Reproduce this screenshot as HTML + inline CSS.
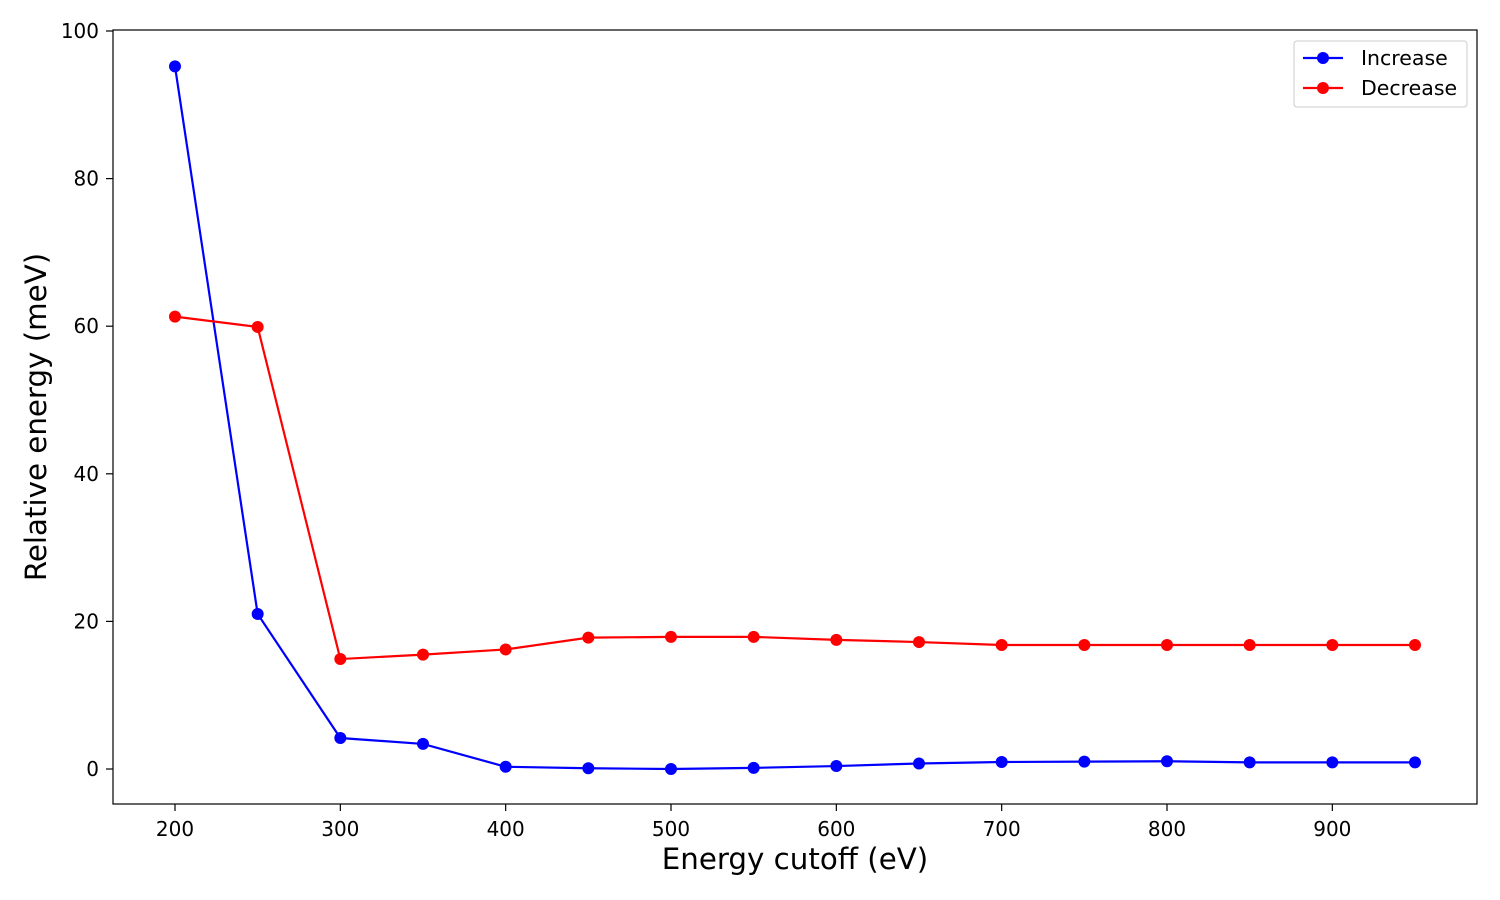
<!DOCTYPE html>
<html><head><meta charset="utf-8"><style>body{margin:0;background:#fff}svg{display:block;font-family:"DejaVu Sans","Liberation Sans",sans-serif}</style></head>
<body>
<svg id="chart" width="1500" height="900">
<rect x="0" y="0" width="1500" height="900" fill="#fff"/>
<g id="grid"></g>
<g id="series"></g>
<rect x="113" y="30" width="1364" height="774" fill="none" stroke="#000" stroke-width="1.2"/>
<text x="795" y="869" font-size="29.3" text-anchor="middle">Energy cutoff (eV)</text>
<text x="46" y="417" font-size="29.3" text-anchor="middle" transform="rotate(-90 46 417)">Relative energy (meV)</text>
<g>
<rect x="1294" y="41" width="173" height="66" rx="3" fill="#fff" stroke="#ccc"/>
<g><line x1="1303" y1="58" x2="1343" y2="58" stroke="#0000ff" stroke-width="2.2"/><circle cx="1323" cy="58" r="6" fill="#0000ff"/><text x="1361" y="65" font-size="20.5">Increase</text></g>
<g><line x1="1303" y1="88" x2="1343" y2="88" stroke="#ff0000" stroke-width="2.2"/><circle cx="1323" cy="88" r="6" fill="#ff0000"/><text x="1361" y="95" font-size="20.5">Decrease</text></g>
</g>
</svg>
<script>
const categories=[200,250,300,350,400,450,500,550,600,650,700,750,800,850,900,950];
const increaseValues=[95.2,21.0,4.2,3.4,0.3,0.1,0.0,0.15,0.4,0.75,0.95,1.0,1.05,0.9,0.9,0.9];
const decreaseValues=[61.3,59.9,14.9,15.5,16.2,17.8,17.9,17.9,17.5,17.2,16.8,16.8,16.8,16.8,16.8,16.8];
const xTicks=[200,300,400,500,600,700,800,900];
const yTicks=[0,20,40,60,80,100];
const NS="http://www.w3.org/2000/svg";
function xs(v){return 175+(v-200)*1240/750;}
function ys(v){return 769-v*7.38;}
const grid=document.getElementById('grid'),ser=document.getElementById('series');
function mk(tag,attrs,parent){const e=document.createElementNS(NS,tag);for(const k in attrs)e.setAttribute(k,attrs[k]);parent.appendChild(e);return e;}
xTicks.forEach(t=>{
 const l=mk('line',{x1:xs(t),x2:xs(t),y1:804,y2:811,stroke:'#000','stroke-width':1.2},grid);
 
 
 const tx=mk('text',{x:xs(t),y:836,'font-size':20,'text-anchor':'middle'},grid);tx.textContent=t;
 
 
});
yTicks.forEach(t=>{
 const l=mk('line',{x1:106,x2:113,y1:ys(t),y2:ys(t),stroke:'#000','stroke-width':1.2},grid);
 
 
 const tx=mk('text',{x:99,y:ys(t)+7,'font-size':20,'text-anchor':'end'},grid);tx.textContent=t;
 
 
});
function draw(vals,color,name){
 const p=mk('polyline',{points:vals.map((v,i)=>xs(categories[i])+','+ys(v)).join(' '),fill:'none',stroke:color,'stroke-width':2.2},ser);
 
 
 vals.forEach((v,i)=>{
  const c=mk('circle',{cx:xs(categories[i]),cy:ys(v),r:6,fill:color},ser);
  
  
 });
}
draw(increaseValues,'#0000ff','increase');
draw(decreaseValues,'#ff0000','decrease');
</script>
</body></html>
